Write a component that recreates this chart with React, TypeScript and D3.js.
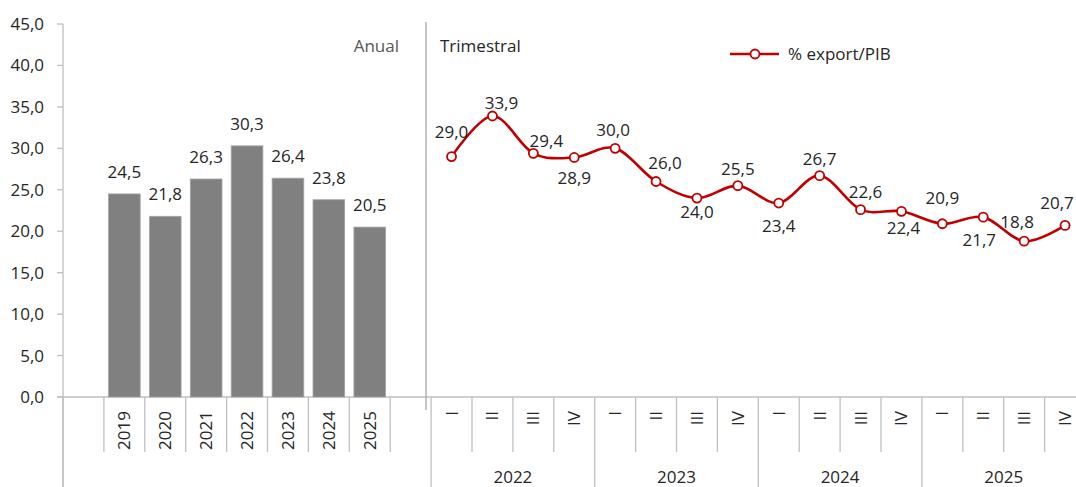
import React from "react";
import * as d3 from "d3";

const annualYears = ["2019", "2020", "2021", "2022", "2023", "2024", "2025"];
const annualValues = [24.5, 21.8, 26.3, 30.3, 26.4, 23.8, 20.5];
const quarterNames = ["I", "II", "III", "IV"];
const quarterYears = ["2022", "2023", "2024", "2025"];
const quarterlyValues = [29.0, 33.9, 29.4, 28.9, 30.0, 26.0, 24.0, 25.5, 23.4, 26.7, 22.6, 22.4, 20.9, 21.7, 18.8, 20.7];
const yTicks = [0, 5, 10, 15, 20, 25, 30, 35, 40, 45];
const seriesName = "% export/PIB";
const panelLabels = ["Anual", "Trimestral"];

// label placement offsets (dx, dy of label centre relative to the marker)
const lineLabelOffsets: [number, number][] = [
  [0, -25], [9, -13], [13, -12], [0, 21], [-2, -18], [9, -18], [0, 14], [0, -17],
  [0, 23], [0, -17], [5, -18], [2, 17], [0, -26], [-4, 23], [-7, -19], [-8, -22],
];

const W = 1076;
const H = 487;
const FONT = "'Open Sans', 'DejaVu Sans', sans-serif";
const FS = 17;
const TXT = "#262626";
const AXIS = "#bfbfbf";
const RED = "#c00000";

const fmt = (v: number) => d3.format(".1f")(v).replace(".", ",");

export default function App() {
  const left = 63;
  const step = 40.9;
  const quarterKeys = quarterYears.flatMap((y) => quarterNames.map((q) => `${y}-${q}`));
  const domain = ["_a", ...annualYears, "_b", ...quarterKeys];
  const x = d3.scaleBand<string>().domain(domain).range([left, left + step * domain.length]).padding(0);
  const bw = x.bandwidth();
  const y = d3.scaleLinear().domain([0, 45]).range([397, 24]);
  const y0 = y(0);

  const pts: [number, number][] = quarterlyValues.map((v, i) => [x(quarterKeys[i])! + bw / 2, y(v)]);
  const line = d3.line().curve(d3.curveCardinal.tension(0))(pts) || "";

  const groupBounds = [x("_a")!, x(quarterKeys[0])!, x(quarterKeys[4])!, x(quarterKeys[8])!, x(quarterKeys[12])!];
  const shortTicks = domain.map((d) => x(d)!).filter((v) => !groupBounds.some((g) => Math.abs(g - v) < 0.5));
  const divX = 426;

  return (
    <svg width={W} height={H} style={{ position: "absolute", left: 0, top: 0, display: "block", background: "#fff" }}
      fontFamily={FONT}>
      {/* y axis */}
      <line x1={left} x2={left} y1={y(45)} y2={H} stroke={AXIS} strokeWidth={1.3} />
      {yTicks.map((t) => (
        <g key={t}>
          <line x1={left - 6} x2={left} y1={y(t)} y2={y(t)} stroke={AXIS} strokeWidth={1.3} />
          <text x={left - 19} y={y(t)} dy="0.35em" textAnchor="end" fontSize={FS} fill={TXT}>{fmt(t)}</text>
        </g>
      ))}
      {/* x axis */}
      <line x1={left - 6} x2={W} y1={y0} y2={y0} stroke={AXIS} strokeWidth={1.3} />
      {shortTicks.map((v, i) => (
        <line key={"s" + i} x1={v} x2={v} y1={y0} y2={452} stroke={AXIS} strokeWidth={1.3} />
      ))}
      {groupBounds.map((v, i) => (
        <line key={"g" + i} x1={v} x2={v} y1={y0} y2={H} stroke={AXIS} strokeWidth={1.3} />
      ))}
      {/* divider */}
      <line x1={divX} x2={divX} y1={22} y2={410} stroke="#a6a6a6" strokeWidth={1.3} />
      <text x={399} y={46} dy="0.35em" textAnchor="end" fontSize={FS} fill="#595959">{panelLabels[0]}</text>
      <text x={440} y={46} dy="0.35em" textAnchor="start" fontSize={FS} fill={TXT}>{panelLabels[1]}</text>

      {/* bars */}
      {annualYears.map((yr, i) => {
        const bx = x(yr)! + bw * 0.1125;
        const w = bw * 0.775;
        const top = y(annualValues[i]);
        return (
          <g key={yr}>
            <rect x={bx} y={top} width={w} height={y0 - top} fill="#808080" stroke="#a6a6a6" strokeWidth={0.8} />
            <text x={x(yr)! + bw / 2} y={top - 22} dy="0.35em" textAnchor="middle" fontSize={FS} fill={TXT}>
              {fmt(annualValues[i])}
            </text>
          </g>
        );
      })}

      {/* category labels */}
      {annualYears.map((yr) => (
        <text key={"l" + yr} transform={`translate(${x(yr)! + bw / 2},411) rotate(-90)`} dy="0.35em"
          textAnchor="end" fontSize={FS} fill={TXT}>{yr}</text>
      ))}
      {quarterKeys.map((k, i) => (
        <text key={"q" + k} transform={`translate(${x(k)! + bw / 2},411) rotate(-90)`} dy="0.35em"
          textAnchor="end" fontSize={FS} fill={TXT}>{quarterNames[i % 4]}</text>
      ))}
      {quarterYears.map((yr, gi) => {
        const start = x(quarterKeys[gi * 4])!;
        return (
          <text key={"gy" + yr} x={start + 2 * step} y={477} dy="0.35em" textAnchor="middle" fontSize={FS} fill={TXT}>
            {yr}
          </text>
        );
      })}

      {/* line series */}
      <path d={line} fill="none" stroke={RED} strokeWidth={2.6} />
      {pts.map(([px, py], i) => (
        <g key={"p" + i}>
          <circle cx={px} cy={py} r={4.5} fill="#fff" stroke={RED} strokeWidth={1.8} />
          <text x={px + lineLabelOffsets[i][0]} y={py + lineLabelOffsets[i][1]} dy="0.35em" textAnchor="middle"
            fontSize={FS} fill={TXT}>{fmt(quarterlyValues[i])}</text>
        </g>
      ))}

      {/* legend */}
      <line x1={730} x2={779} y1={54} y2={54} stroke={RED} strokeWidth={2.6} />
      <circle cx={755} cy={54} r={4.5} fill="#fff" stroke={RED} strokeWidth={1.8} />
      <text x={788} y={54} dy="0.35em" fontSize={FS} fill={TXT}>{seriesName}</text>
    </svg>
  );
}
